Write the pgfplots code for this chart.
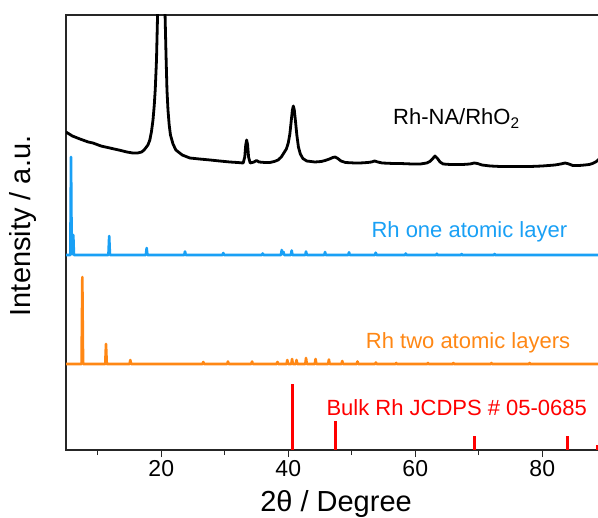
\documentclass[border=0pt]{standalone}
\usepackage{fontspec}
\setmainfont{Liberation Sans}
\usepackage{pgfplots}
\pgfplotsset{compat=1.18}

\definecolor{layerblue}{RGB}{25,160,245}
\definecolor{layerorange}{RGB}{255,135,20}
\definecolor{bulkred}{RGB}{255,0,0}

% measured pattern of the Rh-NA/RhO2 sample (offset upwards)
\pgfplotstableread{
x y
5.0 318
6.0 314
7.2 311
8.5 308
9.25 307
10.5 304
11.9 302
13.3 300
14.6 298
15.5 297
16.3 297
16.9 298
17.3 300
17.9 305
18.2 310
18.45 318
18.7 330
18.9 345
19.05 360
19.25 390
19.4 430
19.6 500
19.8 550
20.0 570
20.2 550
20.4 500
20.6 435
20.75 395
20.9 360
21.06 340
21.25 325
21.45 315
21.85 306
22.3 300
23.3 295
24.5 292
26.0 291
27.7 290
29.2 289
30.8 288
32.0 287.5
32.9 287
33.15 293
33.3 305
33.45 310
33.6 305
33.75 293
34.0 287
34.6 288
35.0 289.5
35.4 288
36.3 287.5
37.1 287.5
37.8 288.5
38.4 290
38.9 293
39.3 297
39.7 301
40.0 307
40.25 316
40.45 328
40.65 340
40.8 344
40.95 340
41.15 328
41.35 315
41.6 303
41.9 296
42.3 291.5
42.9 289
44.2 288
45.2 288.5
45.8 289.5
46.5 291
47.0 292.5
47.4 293
47.8 291.5
48.3 289
49.0 287.5
50.5 287
51.3 287
52.5 287.5
53.1 288
53.6 289
54.1 288
54.8 287
56.5 286.5
57.6 286.5
59.5 286
60.8 286
61.8 287
62.3 288.5
62.7 291
63.1 294
63.5 291.5
63.9 288
64.4 286
65.5 285.5
66.3 285.5
67.5 285.5
68.6 286
69.3 287
69.8 286.5
70.5 285
71.8 284
73.4 283.5
75.5 283.5
78.1 283.5
80.0 284
82.0 285
82.9 286
83.6 287
84.2 286
84.8 284.5
85.8 284.5
86.7 285
87.4 285.5
87.9 286.5
88.4 288
88.8 290
89.2 293
}\sample

% simulated pattern, one atomic layer (baseline 195)
\pgfplotstableread{
x y
5.0 195
5.68 195
5.79 293
5.9 196
6.05 196
6.15 215
6.25 195
11.68 195
11.8 214
11.92 195
17.58 195
17.7 202
17.82 195
23.62 195
23.74 198.5
23.86 195
29.65 195
29.77 197
29.89 195
35.85 195
35.97 196.5
36.09 195
38.85 195
38.97 200
39.1 196
39.25 198
39.37 195
40.42 195
40.54 199.5
40.66 195
42.68 195
42.8 198.5
42.92 195
45.67 195
45.79 198
45.91 195
49.45 195
49.57 197.7
49.69 195
53.65 195
53.77 197.3
53.89 195
58.4 195
58.5 196.5
58.6 195
63.3 195
63.4 196.3
63.5 195
67.2 195
67.3 196
67.4 195
72.4 195
72.5 196
72.6 195
89.2 195
}\onelayer

% simulated pattern, two atomic layers (baseline 86)
\pgfplotstableread{
x y
5.0 86
7.45 86
7.57 173
7.69 86
11.18 86
11.3 106
11.42 86
15.01 86
15.13 90
15.25 86
26.5 86
26.62 88
26.74 86
30.38 86
30.5 88.5
30.62 86
34.18 86
34.3 88.5
34.42 86
38.18 86
38.3 88
38.42 86
39.73 86
39.85 90
39.97 86
40.48 86
40.6 91
40.72 86
41.18 86
41.3 90
41.42 86
42.68 86
42.8 92
42.92 86
44.18 86
44.3 91
44.42 86
46.28 86
46.4 90.5
46.52 86
48.38 86
48.5 89
48.62 86
50.78 86
50.9 88.5
51.02 86
53.68 86
53.8 87.5
53.92 86
56.9 86
57.0 87
57.1 86
61.9 86
62.0 87
62.1 86
65.9 86
66.0 87
66.1 86
71.9 86
72.0 87
72.1 86
77.9 86
78.0 87
78.1 86
89.2 86
}\twolayers

% reference lines of bulk Rh
\pgfplotstableread{
x y
40.7 66
47.45 29
69.3 14.5
84.0 14.5
88.7 5
}\bulk

\begin{document}
\begin{tikzpicture}
\begin{axis}[
  scale only axis,
  width=534.7bp, height=435bp,
  xmin=5, xmax=89.2, ymin=0, ymax=435,
  ytick=\empty,
  xtick={20,40,60,80},
  minor xtick={10,30,50,70},
  xtick pos=bottom,
  tick align=outside,
  major tick length=7bp,
  minor tick length=5bp,
  tick style={black!85, line width=1.2bp},
  axis line style={black!85, line width=1.2bp},
  /pgf/number format/assume math mode=true,
  xticklabel style={font=\fontsize{23bp}{27bp}\selectfont},
  xlabel={2θ / Degree},
  ylabel={Intensity / a.u.},
  label style={font=\fontsize{29bp}{33bp}\selectfont},
  xlabel style={at={(axis description cs:0.505,-0.1425)}, anchor=base},
  ylabel style={at={(axis description cs:-0.0804,0.515)}, anchor=center},
]
\coordinate (O) at (rel axis cs:0,0);

\addplot[black, line width=2.8bp, line join=round] table {\sample};
\addplot[layerblue, line width=2.6bp, line join=round] table {\onelayer};
\addplot[layerorange, line width=2.6bp, line join=round] table {\twolayers};
\addplot[bulkred, ycomb, line width=2.6bp] table {\bulk};

\node[anchor=base, inner sep=0pt, font=\fontsize{22bp}{26bp}\selectfont, text=black]
  at (axis cs:66.48,325) {Rh-NA/RhO\textsubscript{2}};
\node[anchor=base, inner sep=0pt, font=\fontsize{22bp}{26bp}\selectfont, text=layerblue]
  at (axis cs:68.52,212.7) {Rh one atomic layer};
\node[anchor=base, inner sep=0pt, font=\fontsize{22bp}{26bp}\selectfont, text=layerorange]
  at (axis cs:68.31,101) {Rh two atomic layers};
\node[anchor=base, inner sep=0pt, font=\fontsize{22bp}{26bp}\selectfont, text=bulkred]
  at (axis cs:66.53,34.3) {Bulk Rh JCDPS \# 05-0685};
\end{axis}
\pgfresetboundingbox
\path (O) ++(-66bp,-68bp) rectangle ++(598bp,518bp);
\end{tikzpicture}
\end{document}
